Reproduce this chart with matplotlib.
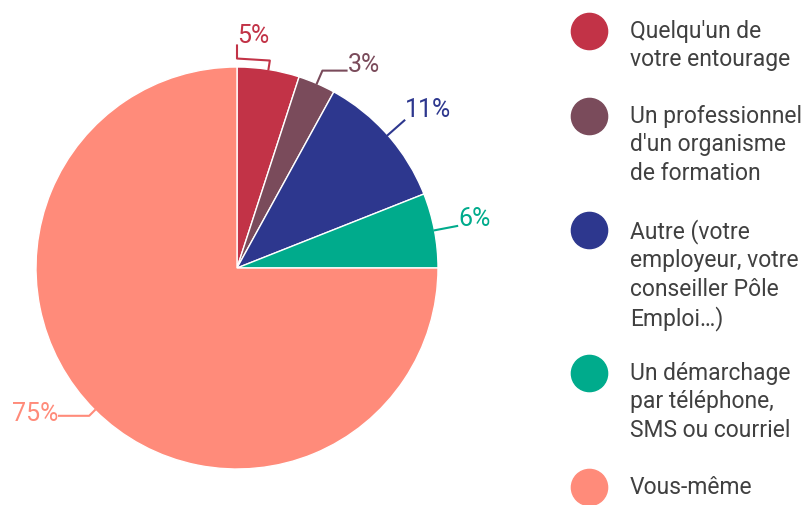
import matplotlib.pyplot as plt
import numpy as np

plt.rcParams['font.family'] = ['Roboto', 'DejaVu Sans']

labels = ["Quelqu'un de\nvotre entourage",
          "Un professionnel\nd'un organisme\nde formation",
          "Autre (votre\nemployeur, votre\nconseiller Pôle\nEmploi…)",
          "Un démarchage\npar téléphone,\nSMS ou courriel",
          "Vous-même"]
values = [5, 3, 11, 6, 75]
colors = ['#c23347', '#7a4b5b', '#2d378e', '#00ab8c', '#ff8b7a']

fig = plt.figure(figsize=(8.07, 5.05), dpi=100)

# pie axes: centre at (237, 268) px, radius 201 px, data limits +-1.2
R = 201
size = R * 2.4
ax = fig.add_axes([(237 - size / 2) / 807, (505 - 268 - size / 2) / 505,
                   size / 807, size / 505])
wedges, _ = ax.pie(values, colors=colors, startangle=90, counterclock=False,
                   radius=1, wedgeprops=dict(edgecolor='white', linewidth=1))
ax.set_xlim(-1.2, 1.2)
ax.set_ylim(-1.2, 1.2)
ax.set_aspect('equal')
ax.axis('off')

def pt(r, a):
    return np.array([r * np.cos(np.radians(a)), r * np.sin(np.radians(a))])

# leader lines: (elbow radius, horizontal length, text y shift)
leaders = [None, (1.07, 0.12, 0.03), (1.11, 0.0, 0.05), (1.115, 0.0, 0.035), (1.04, -0.15, 0.01)]

for i, w in enumerate(wedges):
    mid = (w.theta1 + w.theta2) / 2
    txt = f"{values[i]}%"
    a = pt(1.0, mid)
    if leaders[i] is None:
        e = pt(1.045, mid)
        path = np.array([a, e, [0.0, e[1] + 0.01], [0.0, e[1] + 0.075]])
        ax.plot(path[:, 0], path[:, 1], color=colors[i], lw=1.5, clip_on=False)
        ax.text(e[0] / 2, e[1] + 0.12, txt, color=colors[i], fontsize=18,
                ha='center', va='center')
        continue
    r, h, dy = leaders[i]
    e = pt(r, mid)
    end = e + np.array([h, 0])
    path = np.array([a, e, end])
    ax.plot(path[:, 0], path[:, 1], color=colors[i], lw=1.5, clip_on=False)
    ha = 'left' if end[0] >= 0 else 'right'
    ax.text(end[0] + (0.005 if ha == 'left' else -0.005), end[1] + dy, txt,
            color=colors[i], fontsize=18, ha=ha, va='center')

# legend in pixel coordinates
lg = fig.add_axes([0, 0, 1, 1])
lg.set_xlim(0, 807)
lg.set_ylim(505, 0)
lg.axis('off')
line_h = 29
gap = 27
y = 31
for lab, c in zip(labels, colors):
    lg.scatter([589], [y], s=680, color=c, zorder=3)
    lg.text(630, y - 11, lab, fontsize=16.5, color='#404040', ha='left',
            va='top', linespacing=1.3)
    y += lab.count('\n') * line_h + line_h + gap

fig.savefig('out.png', dpi=100)
